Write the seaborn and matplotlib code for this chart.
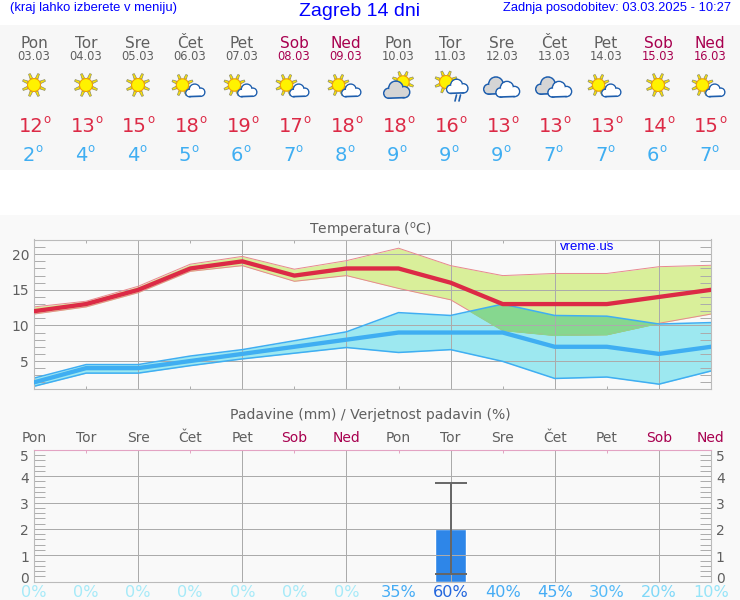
#!/usr/bin/env python3
"""14 day weather forecast panel for Zagreb."""

import numpy as np
import seaborn as sns
import matplotlib
matplotlib.use("Agg")
import matplotlib.pyplot as plt
from matplotlib.patches import Circle, Polygon, Rectangle
from matplotlib.ticker import FixedLocator
from matplotlib.transforms import ScaledTranslation

# ----------------------------
# Data
# ----------------------------
day_names = ["Pon", "Tor", "Sre", "Čet", "Pet", "Sob", "Ned"] * 2
dates = ["03.03", "04.03", "05.03", "06.03", "07.03", "08.03", "09.03",
         "10.03", "11.03", "12.03", "13.03", "14.03", "15.03", "16.03"]
icons = ["sun", "sun", "sun", "partly", "partly", "partly", "partly",
         "mostly", "rain", "cloud", "cloud", "partly", "sun", "partly"]
days = list(range(14))

t_max = [12, 13, 15, 18, 19, 17, 18, 18, 16, 13, 13, 13, 14, 15]
t_min = [2, 4, 4, 5, 6, 7, 8, 9, 9, 9, 7, 7, 6, 7]
t_max_hi = [12.6, 13.4, 15.5, 18.6, 19.7, 17.9, 19.1, 20.85, 18.4, 17.0, 17.3, 17.3, 18.25, 18.45]
t_max_lo = [11.6, 12.6, 14.6, 17.6, 18.4, 16.2, 17.0, 15.2, 13.6, 9.3, 8.6, 8.7, 10.3, 11.6]
t_min_hi = [2.6, 4.5, 4.5, 5.7, 6.6, 7.85, 9.1, 11.8, 11.4, 13.0, 11.4, 11.3, 10.2, 10.4]
t_min_lo = [1.45, 3.3, 3.3, 4.35, 5.3, 6.1, 6.9, 6.2, 6.6, 4.95, 2.55, 2.75, 1.75, 3.6]

rain = [0, 0, 0, 0, 0, 0, 0, 0, 2.0, 0, 0, 0, 0, 0]
rain_low = 0.28
rain_high = 3.74
rain_day = 8
rain_prob = [0, 0, 0, 0, 0, 0, 0, 35, 60, 40, 45, 30, 20, 10]

# ----------------------------
# Colours
# ----------------------------
RED = "#DC2A46"
BLUE = "#3FAEF2"
WEEKEND = "#A8004F"
GREY_TXT = "#5F5F5F"
LINK = "#0000FF"
GRID = "#ABABAB"
OUTLINE = "#1F5FAE"
PROB_COLORS = {0: "#A6EAF8", 10: "#95E4F8", 20: "#7FD8F8", 30: "#55BBF8",
               35: "#45ACF5", 40: "#45ACF5", 45: "#45ACF5", 60: "#2266DD"}

sns.set_theme(style="white", rc={"axes.facecolor": "none", "figure.facecolor": "white"})
plt.rcParams["font.family"] = ["DejaVu Sans"]
plt.rcParams["mathtext.default"] = "regular"

W, H = 740, 600


def day_color(i):
    return WEEKEND if day_names[i] in ("Sob", "Ned") else GREY_TXT


# ----------------------------
# Weather icons (pixel coords of the overlay)
# ----------------------------
def draw_sun(ax, cx, cy, r=6.5, ray=12.0):
    for k in range(8):
        a = np.pi / 8 + k * np.pi / 4
        c, s = np.cos(a), np.sin(a)
        hw = 1.3
        pts = [(cx + (r + 0.5) * c - hw * s, cy + (r + 0.5) * s + hw * c),
               (cx + ray * c - hw * 0.7 * s, cy + ray * s + hw * 0.7 * c),
               (cx + ray * c + hw * 0.7 * s, cy + ray * s - hw * 0.7 * c),
               (cx + (r + 0.5) * c + hw * s, cy + (r + 0.5) * s - hw * c)]
        ax.add_patch(Polygon(pts, fc="#FFE600", ec="#8A8A6A", lw=0.5, zorder=3))
    ax.add_patch(Circle((cx, cy), r, fc="#FFF200", ec="#F0A000", lw=0.8, zorder=4))


def draw_cloud(ax, cx, cy, s=1.0, fill="white", z=5):
    parts = [(-7.5, 2.5, 4.5), (-1, -2, 6.5), (6.5, 1.5, 5.0)]
    for dx, dy, r in parts:
        ax.add_patch(Circle((cx + dx * s, cy + dy * s), r * s, fc=fill, ec=OUTLINE, lw=1.2, zorder=z))
    ax.add_patch(Rectangle((cx - 7.5 * s, cy + 1 * s), 14 * s, 6 * s, fc=fill, ec="none", zorder=z + 0.1))
    ax.plot([cx - 7.5 * s, cx + 6.5 * s], [cy + 7 * s, cy + 6.5 * s], color=OUTLINE, lw=1.2, zorder=z + 0.2)
    for dx, dy, r in parts:
        ax.add_patch(Circle((cx + dx * s, cy + dy * s), (r - 0.7) * s, fc=fill, ec="none", zorder=z + 0.1))


def draw_icon(ax, kind, cx, cy=85):
    if kind == "sun":
        draw_sun(ax, cx, cy)
    elif kind == "partly":
        draw_sun(ax, cx - 7.5, cy, r=6.2, ray=11)
        draw_cloud(ax, cx + 5.5, cy + 6, s=0.8)
    elif kind == "mostly":
        draw_sun(ax, cx + 5, cy - 3, r=6.2, ray=11)
        draw_cloud(ax, cx - 1, cy + 5.5, s=1.1, fill="#D5D5D5")
    elif kind == "rain":
        draw_sun(ax, cx - 4, cy - 3, r=6.5, ray=11.5)
        draw_cloud(ax, cx + 7.5, cy + 2, s=0.9)
        for dx in (6.5, 10.5):
            ax.plot([cx + dx, cx + dx - 1.5], [cy + 10, cy + 16], color=OUTLINE, lw=1.2, zorder=6)
    else:
        draw_cloud(ax, cx - 5, cy + 1.4, s=1.1, fill="#D5D5D5", z=5)
        draw_cloud(ax, cx + 6, cy + 5, s=1.0, fill="white", z=6)


def draw_temp(ax, value, x, y, color):
    # digits plus a small raised "o" as the degree sign
    right = x + (9.2 if value >= 10 else 1.5)
    ax.text(right, y, str(value), color=color, fontsize=14, ha="right", va="center")
    ax.text(right + 3.5, y - 7, "o", color=color, fontsize=8.5, ha="center", va="center")


# ----------------------------
# Figure
# ----------------------------
fig = plt.figure(figsize=(W / 100, H / 100), dpi=100)

bg = fig.add_axes([0, 0, 1, 1], zorder=0)
bg.set_xlim(0, W)
bg.set_ylim(H, 0)
bg.axis("off")
bg.add_patch(Rectangle((0, 25), W, 145, fc="#F7F7F7", ec="none"))
bg.add_patch(Rectangle((0, 215), W, 385, fc="#F9F9F9", ec="none"))

bg.text(10, 8, "(kraj lahko izberete v meniju)", color=LINK, fontsize=9.4,
        family="Liberation Sans", ha="left", va="center")
bg.text(360, 11, "Zagreb 14 dni", color=LINK, fontsize=14, family="Liberation Sans",
        ha="center", va="center")
bg.text(731, 8, "Zadnja posodobitev: 03.03.2025 - 10:27", color=LINK, fontsize=9.3,
        family="Liberation Sans", ha="right", va="center")

for i in days:
    x = 34 + 52 * i
    bg.text(x, 43, day_names[i], color=day_color(i), fontsize=11, ha="center", va="center")
    bg.text(x, 56, dates[i], color=day_color(i), fontsize=8.3, ha="center", va="center")
    draw_icon(bg, icons[i], x)
    draw_temp(bg, t_max[i], x, 126.5, RED)
    draw_temp(bg, t_min[i], x, 155.5, BLUE)

bg.text(370, 230.5, "Temperatura ($^{o}$C)", color=GREY_TXT, fontsize=10, ha="center", va="center")
bg.text(370, 415.5, "Padavine (mm) / Verjetnost padavin (%)", color=GREY_TXT, fontsize=10.1,
        ha="center", va="center")
bg.text(560, 247, "vreme.us", color=LINK, fontsize=9.5, family="Liberation Sans",
        ha="left", va="center", zorder=10)


def panel(top, bottom):
    ax = fig.add_axes([34 / W, 1 - bottom / H, 677 / W, (bottom - top) / H], zorder=1)
    ax.set_xlim(0, 13)
    ax.set_xticks(days)
    for i in days[2:-1:2]:
        ax.axvline(i, color=GRID, lw=0.72, zorder=1.5)
    for s in ax.spines.values():
        s.set_color("#BBBBBB")
        s.set_linewidth(0.8)
    return ax


# temperature panel
ax_t = panel(239.5, 389)
band_cold = ax_t.fill_between(days, t_min_lo, t_min_hi, color="#9DE8F0", lw=0, zorder=1)
ax_t.fill_between(days, t_max_lo, t_max_hi, color="#D9EF9A", lw=0, zorder=1)
overlap = ax_t.fill_between(days, t_max_lo, t_max_hi, color="#86D78F", lw=0, zorder=1.1)
overlap.set_clip_path(band_cold.get_paths()[0], band_cold.get_transform())

for band in (t_max_hi, t_max_lo):
    sns.lineplot(x=days, y=band, color="#E8888F", lw=0.7, ax=ax_t, zorder=2)
# the warm band's lower edge does not show inside the overlap
sns.lineplot(x=days, y=t_max_lo, color="#86D78F", lw=1.0, ax=ax_t, zorder=2.1)
ax_t.lines[-1].set_clip_path(band_cold.get_paths()[0], band_cold.get_transform())
for band in (t_min_hi, t_min_lo):
    sns.lineplot(x=days, y=band, color=BLUE, lw=1.1, ax=ax_t, zorder=2.2)
sns.lineplot(x=days, y=t_min, color=BLUE, lw=3.1, ax=ax_t, zorder=3)
sns.lineplot(x=days, y=t_max, color=RED, lw=3.1, ax=ax_t, zorder=4)

ax_t.set_ylim(1.07, 22.07)
ax_t.set_yticks([5, 10, 15, 20])
ax_t.yaxis.set_minor_locator(FixedLocator([v for v in range(2, 22) if v % 5]))
ax_t.grid(axis="y", color=GRID, lw=0.72)
ax_t.set_axisbelow("line")
ax_t.tick_params(axis="x", which="major", length=2.5, width=0.7, color=GRID, direction="in",
                 top=True, bottom=True, labelbottom=False)
ax_t.tick_params(axis="y", which="major", length=0, pad=3.5, labelsize=10, labelcolor=GREY_TXT)
ax_t.tick_params(axis="y", which="minor", length=7.7, width=0.7, color=GRID, direction="in",
                 left=True, right=True)

# precipitation panel
ax_p = panel(449.7, 581.7)
sns.barplot(x=days, y=rain, native_scale=True, width=0.6, color="#2E86E8", saturation=1,
            ax=ax_p, zorder=1)
ax_p.errorbar([rain_day], [rain[rain_day]],
              yerr=[[rain[rain_day] - rain_low], [rain_high - rain[rain_day]]],
              color="#666666", lw=1.4, capsize=11.2, capthick=1.4, zorder=3)
ax_p.set_xlim(0, 13)
ax_p.set_ylim(0, 5)
ax_p.set_yticks(range(6))
ax_p.yaxis.set_minor_locator(FixedLocator([v / 5 for v in range(25) if v % 5]))
ax_p.grid(axis="y", color=GRID, lw=0.72)
ax_p.set_axisbelow("line")
ax_p.spines["top"].set_color("#E3A3C3")

ax_p.set_xticks(days)
ax_p.set_xticklabels([f"{v}%" for v in rain_prob], fontsize=11.6)
ax_p.tick_params(axis="x", which="major", length=0, pad=2.5)
for lab, v in zip(ax_p.get_xticklabels(), rain_prob):
    lab.set_color(PROB_COLORS[v])

# day names sit above the panel on a twin axis
ax_top = ax_p.secondary_xaxis("top")
ax_top.set_xticks(days)
ax_top.set_xticklabels(day_names, fontsize=10)
ax_top.tick_params(axis="x", length=2.5, width=0.7, color="#E3A3C3", direction="in", pad=3.2)
ax_top.spines["top"].set_visible(False)
for i, lab in enumerate(ax_top.get_xticklabels()):
    lab.set_color(day_color(i))

ax_p.tick_params(axis="y", which="major", length=0, pad=3.5, labelsize=10, labelcolor=GREY_TXT,
                 labelleft=True, labelright=True)
ax_p.tick_params(axis="y", which="minor", length=7.7, width=0.7, color=GRID, direction="in",
                 left=True, right=True)

# the 0 and 5 labels are pushed inside the panel range
nudge = {0: 4.4, 5: -6.0}
for tick, v in zip(ax_p.yaxis.get_major_ticks(), range(6)):
    shift = ScaledTranslation(0, nudge.get(v, -1.0) / 100, fig.dpi_scale_trans)
    tick.label1.set_transform(tick.label1.get_transform() + shift)
    tick.label2.set_transform(tick.label2.get_transform() + shift)

fig.savefig("out.png", dpi=100)
plt.close(fig)
